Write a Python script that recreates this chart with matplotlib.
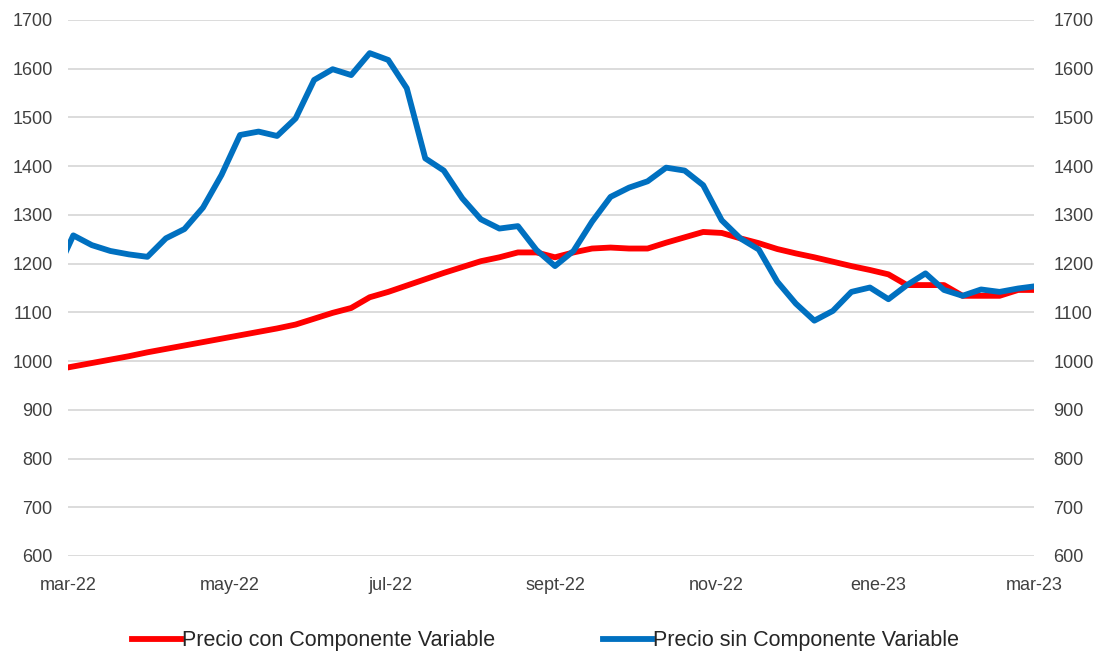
import matplotlib
matplotlib.use("Agg")
import matplotlib.pyplot as plt
import pandas as pd

# semanas (jueves), el primer punto cae antes del eje y queda recortado
fechas = pd.date_range("2022-02-24", periods=54, freq="7D")

precio_con = [982,
              989, 996, 1003, 1010, 1018, 1025, 1032, 1039, 1046, 1053,
              1060, 1067, 1075, 1087, 1099, 1109, 1131, 1142, 1155, 1168,
              1181, 1193, 1205, 1213, 1223, 1223, 1213, 1223, 1231, 1233,
              1231, 1231, 1243, 1254, 1265, 1263, 1252, 1242, 1230, 1221,
              1213, 1204, 1195, 1187, 1178, 1156, 1156, 1156, 1134, 1134,
              1134, 1146, 1146]

precio_sin = [1175,
              1258, 1238, 1226, 1219, 1214, 1252, 1271, 1315, 1382, 1464,
              1471, 1462, 1498, 1577, 1599, 1587, 1632, 1618, 1560, 1416,
              1391, 1334, 1291, 1272, 1277, 1228, 1195, 1226, 1286, 1337,
              1356, 1369, 1397, 1391, 1361, 1289, 1252, 1229, 1163, 1118,
              1083, 1103, 1142, 1151, 1127, 1156, 1180, 1146, 1134, 1147,
              1142, 1149, 1154]

etiquetas_x = ["mar-22", "may-22", "jul-22", "sept-22", "nov-22", "ene-23", "mar-23"]
fechas_x = pd.to_datetime(["2022-03-01", "2022-05-01", "2022-07-01", "2022-09-01",
                           "2022-11-01", "2023-01-01", "2023-03-01"])
ticks_y = list(range(600, 1701, 100))

plt.rcParams["font.family"] = ["Liberation Sans", "DejaVu Sans"]
gris = "#404040"

fig = plt.figure(figsize=(11.02, 6.55), dpi=100)
ax = fig.add_axes([68 / 1102, 1 - 556 / 655, (1034 - 68) / 1102, (556 - 20) / 655])

ax.plot(fechas, precio_con, color="#FF0000", lw=4.2, label="Precio con Componente Variable",
        solid_joinstyle="round", zorder=3)
ax.plot(fechas, precio_sin, color="#0070C0", lw=4.2, label="Precio sin Componente Variable",
        solid_joinstyle="round", zorder=4)

ax.set_xlim(pd.Timestamp("2022-03-01"), pd.Timestamp("2023-03-01"))
ax.set_ylim(600, 1700)
ax.set_yticks(ticks_y)
ax.set_xticks(fechas_x)
ax.set_xticklabels(etiquetas_x)

ax.grid(axis="y", color="#D9D9D9", lw=1.3)
ax.set_axisbelow(True)
for s in ax.spines.values():
    s.set_visible(False)
ax.tick_params(axis="both", length=0, labelsize=13, colors=gris)
ax.tick_params(axis="y", pad=11)
ax.tick_params(axis="x", pad=15)

# eje derecho con los mismos valores
ax2 = ax.twinx()
ax2.set_ylim(600, 1700)
ax2.set_yticks(ticks_y)
for s in ax2.spines.values():
    s.set_visible(False)
ax2.tick_params(axis="y", length=0, labelsize=13, colors=gris, pad=14)

fig.legend(loc="lower center", bbox_to_anchor=(0.495, -0.024), ncol=2, frameon=False,
           fontsize=15.5, handlelength=2.3, handletextpad=0.05, columnspacing=5.0,
           labelcolor="#262626")

fig.savefig("out.png", dpi=100)
